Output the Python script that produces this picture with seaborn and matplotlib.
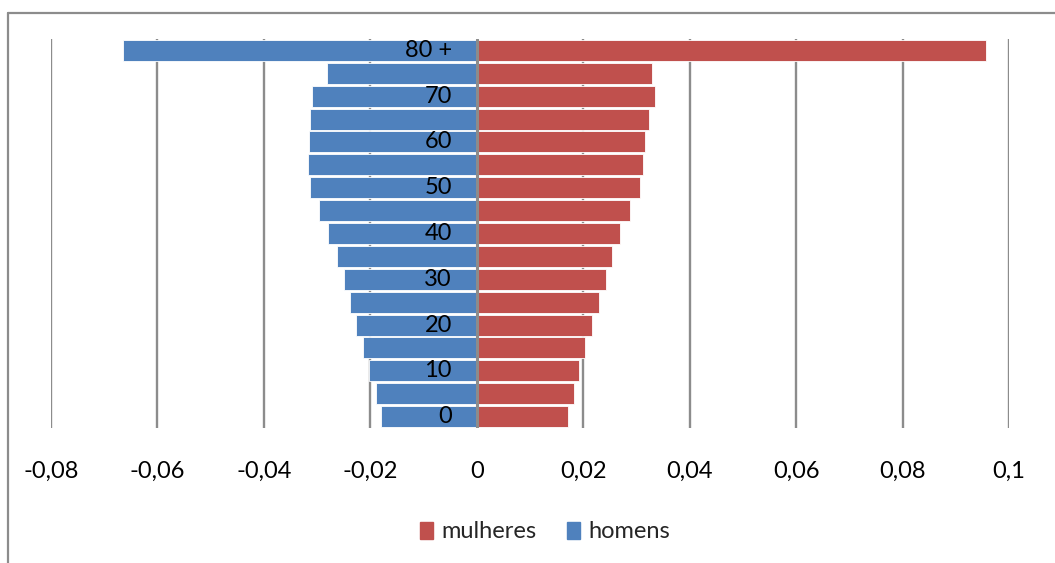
import matplotlib
matplotlib.use("Agg")
import matplotlib.pyplot as plt
import matplotlib.transforms as mtransforms
from matplotlib.lines import Line2D
import seaborn as sns
import pandas as pd

# ---- data ----
age_groups = ["80 +", "75", "70", "65", "60", "55", "50", "45", "40",
              "35", "30", "25", "20", "15", "10", "5", "0"]
age_labels = ["80 +", "", "70", "", "60", "", "50", "", "40",
              "", "30", "", "20", "", "10", "", "0"]
homens = [-0.0665, -0.0281, -0.0309, -0.0314, -0.0316, -0.0317, -0.0314, -0.0297,
          -0.0279, -0.0263, -0.0250, -0.0238, -0.0226, -0.0214, -0.0202, -0.0190, -0.0180]
mulheres = [0.0956, 0.0329, 0.0334, 0.0324, 0.0317, 0.0312, 0.0306, 0.0288,
            0.0269, 0.0255, 0.0242, 0.0230, 0.0217, 0.0204, 0.0193, 0.0182, 0.0172]
x_ticks = [-0.08, -0.06, -0.04, -0.02, 0, 0.02, 0.04, 0.06, 0.08, 0.1]
x_tick_labels = ["-0,08", "-0,06", "-0,04", "-0,02", "0", "0,02", "0,04", "0,06", "0,08", "0,1"]
series_names = ["mulheres", "homens"]
colors = {"mulheres": "#C0504D", "homens": "#4F81BD"}

df = pd.concat([
    pd.DataFrame({"idade": age_groups, "valor": mulheres, "sexo": "mulheres"}),
    pd.DataFrame({"idade": age_groups, "valor": homens, "sexo": "homens"}),
])

sns.set_style("white")
plt.rcParams["font.family"] = ["Lato", "DejaVu Sans"]

fig = plt.figure(figsize=(10.55, 5.63), dpi=100)
W, H = 1055, 563
ax = fig.add_axes([51 / W, (H - 428) / H, 958 / W, 389 / H])

sns.barplot(data=df, x="valor", y="idade", hue="sexo", order=age_groups,
            hue_order=series_names, palette=colors, dodge=False, width=0.92,
            orient="h", saturation=1, edgecolor="white", linewidth=0.6, ax=ax)

ax.set_xlim(-0.08, 0.1)
ax.set_ylim(len(age_groups) - 0.5, -0.5)
ax.set_xticks(x_ticks)
ax.set_xticklabels(x_tick_labels, fontsize=17, color="black")
ax.tick_params(axis="x", length=0, pad=24)
ax.set_yticks([])
ax.set_xlabel("")
ax.set_ylabel("")
for s in ax.spines.values():
    s.set_visible(False)

# vertical gridlines behind bars
for t in x_ticks:
    if t == 0:
        continue
    ax.axvline(t, color="#8C8C8C", lw=1.7, zorder=0)
# zero axis line
ax.axvline(0, color="#8C8C8C", lw=2.2, zorder=3)

# category labels to the left of zero axis
offset = mtransforms.offset_copy(ax.transData, fig=fig, x=-25, y=0, units="dots")
for i, lab in enumerate(age_labels):
    if lab:
        ax.text(0, i, lab, transform=offset, ha="right", va="center",
                fontsize=17, color="black", zorder=4)

# legend
ax.legend_.remove()
handles = [plt.Rectangle((0, 0), 1, 1, color=colors[n]) for n in series_names]
fig.legend(handles, series_names, loc="center", bbox_to_anchor=(545 / W, 1 - 532 / H),
           ncol=2, frameon=False, fontsize=17, handlelength=0.55, handleheight=0.75,
           handletextpad=0.35, columnspacing=1.3)

# outer chart border (top and left)
fig.add_artist(Line2D([8 / W, 8 / W], [0, 1 - 13 / H], color="#8C8C8C", lw=1.6,
                      transform=fig.transFigure))
fig.add_artist(Line2D([8 / W, 1], [1 - 13 / H, 1 - 13 / H], color="#8C8C8C", lw=1.6,
                      transform=fig.transFigure))

fig.savefig("out.png", dpi=100)
